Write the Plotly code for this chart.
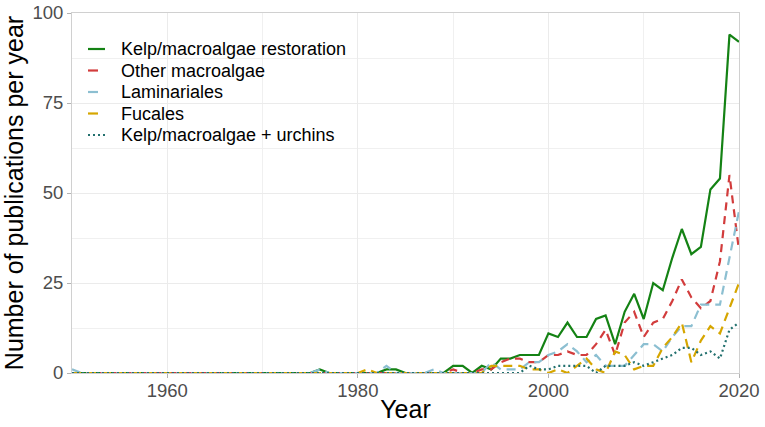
import plotly.graph_objects as go

years = list(range(1950, 2021))

# values per year 1950..2020
restoration = ([0]*26 +                      # 1950-1975
               [1, 0, 0, 0, 0, 0, 0, 1, 1, 0, 0, 0, 0, 0] +   # 1976-1989
               [2, 2, 0, 2, 1, 4, 4, 5, 5, 5] +   # 1990-1999
               [11, 10, 14, 10, 10, 15, 16, 8, 17, 22] +   # 2000-2009
               [15, 25, 23, 32, 40, 33, 35, 51, 54, 94, 92])  # 2010-2020

other_macroalgae = ([0]*40 +                 # 1950-1989
                    [1, 0, 0, 1, 1, 3, 4, 4, 3, 3] +
                    [5, 5, 6, 5, 5, 8, 12, 5, 14, 17] +
                    [10, 14, 15, 20, 26, 21, 18, 20, 31, 55, 34])

laminariales = ([1] + [0]*25 +               # 1950-1975
                [1, 0, 0, 0, 0, 0, 0, 2, 0, 0, 0, 0, 1, 0] +
                [0, 0, 0, 0, 3, 1, 1, 1, 3, 3] +
                [5, 6, 8, 6, 3, 5, 2, 2, 2, 5] +
                [8, 8, 6, 10, 13, 13, 19, 19, 19, 32, 45])

fucales = ([0]*31 +                          # 1950-1980
           [1, 0, 0, 0, 0, 0, 0, 0, 0] +     # 1981-1989
           [0, 0, 0, 0, 2, 2, 2, 2, 1, 1] +
           [0, 1, 0, 2, 4, 1, 0, 6, 5, 1] +
           [2, 2, 7, 10, 14, 3, 9, 13, 11, 18, 25])

urchins = ([0]*40 +                          # 1950-1989
           [0, 0, 0, 0, 0, 0, 0, 0, 2, 1] +
           [1, 2, 2, 2, 2, 0, 2, 2, 2, 3] +
           [2, 3, 4, 5, 7, 7, 5, 6, 4, 12, 14])

series_names = ["Kelp/macroalgae restoration", "Other macroalgae", "Laminariales",
                "Fucales", "Kelp/macroalgae + urchins"]
series_values = [restoration, other_macroalgae, laminariales, fucales, urchins]
series_colors = ["#148214", "#d23c3c", "#8cbfd1", "#d6a600", "#22706e"]
series_dash = ["solid", "8px,6px", "9px,6px", "9px,6px", "2px,3px"]
key_dash = ["solid", "solid", "solid", "solid", "2px,3px"]
key_len = [17, 10, 10, 10, 17]

fig = go.Figure()
for name, vals, col, dash in zip(series_names, series_values, series_colors, series_dash):
    fig.add_trace(go.Scatter(x=years, y=vals, mode="lines", name=name, showlegend=False,
                             line=dict(color=col, width=2.2, dash=dash)))

font_family = "Liberation Sans, Arial, sans-serif"

# plot area wanted at page x 72..739, y 13..373 (body margin removed below)
L, R, T, B = 72, 739, 13, 373
W, H = 765, 427

def px(x):
    return (x - L) / (R - L)
def py(y):
    return (B - y) / (B - T)

shapes = [dict(type="rect", xref="paper", yref="paper", layer="between",
               x0=px(78), x1=px(357), y0=py(147), y1=py(29),
               fillcolor="white", line=dict(width=0))]
annotations = []
row_y = [49, 70.5, 92, 113.5, 135]
for name, col, dash, klen, yy in zip(series_names, series_colors, key_dash, key_len, row_y):
    shapes.append(dict(type="line", xref="paper", yref="paper", layer="above",
                       x0=px(88), x1=px(88 + klen), y0=py(yy), y1=py(yy),
                       line=dict(color=col, width=2.2, dash=dash)))
    annotations.append(dict(text=name, xref="paper", yref="paper", x=px(119), y=py(yy),
                            xanchor="left", yanchor="middle", showarrow=False,
                            font=dict(size=18, color="black", family=font_family)))

fig.update_layout(
    width=W, height=H,
    margin=dict(l=L, r=W - R, t=T, b=H - B),
    paper_bgcolor="white", plot_bgcolor="white",
    font=dict(family=font_family, color="#4d4d4d"),
    showlegend=False,
    shapes=shapes, annotations=annotations,
    xaxis=dict(range=[1950, 2020], tickvals=[1960, 1980, 2000, 2020], automargin=False,
               showgrid=True, gridcolor="#ebebeb", gridwidth=1,
               minor=dict(tickvals=[1950, 1970, 1990, 2010], showgrid=True,
                          gridcolor="#f0f0f0", gridwidth=1),
               zeroline=False, showline=True, mirror=True, linecolor="#d0d0d0", linewidth=1,
               ticks="outside", ticklen=4, tickcolor="#b3b3b3", ticklabelstandoff=-3,
               ticklabeloverflow="allow",
               tickfont=dict(size=18.5, color="#4d4d4d"),
               title=dict(text="Year", font=dict(size=25, color="black"), standoff=0)),
    yaxis=dict(range=[0, 100], tickvals=[0, 25, 50, 75, 100], automargin=False,
               showgrid=True, gridcolor="#ebebeb", gridwidth=1,
               minor=dict(tickvals=[12.5, 37.5, 62.5, 87.5], showgrid=True,
                          gridcolor="#f0f0f0", gridwidth=1),
               zeroline=False, showline=True, mirror=True, linecolor="#d0d0d0", linewidth=1,
               ticks="outside", ticklen=4, tickcolor="#b3b3b3",
               ticklabeloverflow="allow",
               tickfont=dict(size=18.5, color="#4d4d4d"),
               title=dict(text="Number of publications per year",
                          font=dict(size=25, color="black"), standoff=9)),
)

fig.write_html("out.html", config={"displayModeBar": False},
               post_script="document.body.style.margin='0';document.body.style.overflow='hidden';")
